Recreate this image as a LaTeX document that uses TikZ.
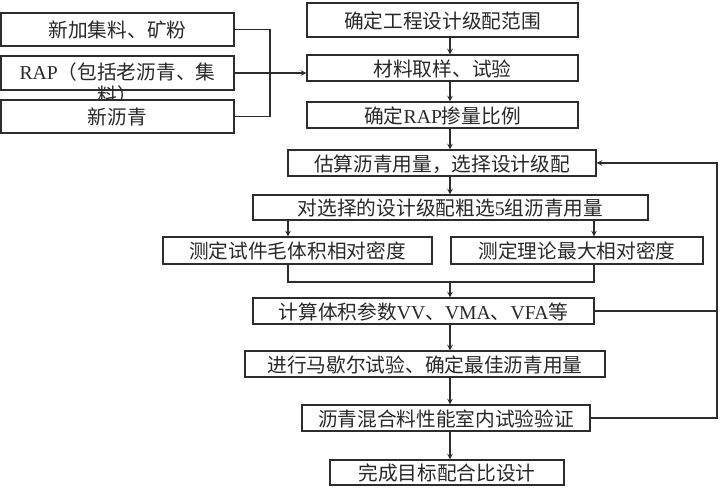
\documentclass[tikz,border=0pt]{standalone}
\usepackage{fontspec}
\usepackage{tikz}
\usepackage{xcolor}
\usetikzlibrary{shapes,arrows,positioning,calc}
\setmainfont{Liberation Serif}
\newfontfamily\cnfont{Noto Sans CJK SC}
\newfontfamily\latfont{Liberation Serif}
\definecolor{linegray}{RGB}{45,45,45}
\definecolor{textgray}{RGB}{40,40,40}
\newcommand{\boxfont}{\cnfont\fontsize{14}{19}\selectfont}
\tikzset{sz/.style 2 args={minimum width=#1*0.025cm, minimum height=#2*0.025cm}}

\begin{document}
\begin{tikzpicture}[
 x=0.025cm, y=-0.025cm,
 box/.style={rectangle, draw=linegray, line width=0.8pt, fill=white, inner sep=0pt, font=\boxfont, text=textgray, text height=1.15em, text depth=0pt},
 txt/.style={inner sep=0pt, font=\boxfont, text=textgray, align=center},
 arrow/.style={->, >=stealth, line width=0.8pt, draw=linegray},
 line/.style={line width=0.8pt, draw=linegray}
]
\useasboundingbox (0,0) rectangle (721,500);

% Raw materials (left side)
\node[box, sz={233}{33}] (agg) at (117.5,29.5) {新加集料、矿粉};
\node[box, sz={233}{34}] (rap) at (117.5,73) {};
\node[txt, anchor=north] (raptxt) at ($(rap.north)+(0,7)$) {{\latfont RAP}（包括老沥青、集\\[-3pt]料）};
\node[box, sz={233}{33}] (binder) at (117.5,116.5) {新沥青};

% Main column
\node[box, sz={271}{34}] (range) at (442.5,20) {确定工程设计级配范围};
\node[box, sz={271}{26}] (sample) at (442.5,68) {材料取样、试验};
\node[box, sz={271}{26}] (ratio) at (442.5,115) {确定{\latfont RAP}掺量比例};
\node[box, sz={308}{26}] (estimate) at (442,163) {估算沥青用量，选择设计级配};
\node[box, sz={395}{25}] (select) at (450.5,207.5) {对选择的设计级配粗选{\latfont 5}组沥青用量};
\node[box, sz={269}{27}] (bulk) at (297.5,250.5) {测定试件毛体积相对密度};
\node[box, sz={252}{27}] (theory) at (577,250.5) {测定理论最大相对密度};
\node[box, sz={341}{26}] (volume) at (423.5,311) {计算体积参数{\latfont VV}、{\latfont VMA}、{\latfont VFA}等};
\node[box, sz={360}{26}] (marshall) at (425,364) {进行马歇尔试验、确定最佳沥青用量};
\node[box, sz={288}{26}] (verify) at (446,418) {沥青混合料性能室内试验验证};
\node[box, sz={234}{25}] (finish) at (447,472.5) {完成目标配合比设计};

% Helper coordinates
\coordinate (col) at (450,0);
\coordinate (join) at (270,0);
\coordinate (ml) at (288,282);
\coordinate (mr) at (594,282);
\coordinate (loop) at (717,0);

% Materials into sampling
\draw[line] (agg.east) -- (agg.east -| join) -- (binder.east -| join) -- (binder.east);
\draw[arrow] (rap.east) -- (rap.east -| sample.west);

% Arrows - main column
\draw[arrow] (range.south -| col) -- (sample.north -| col);
\draw[arrow] (sample.south -| col) -- (ratio.north -| col);
\draw[arrow] (ratio.south -| col) -- (estimate.north -| col);
\draw[arrow] (estimate.south -| col) -- (select.north -| col);
\draw[arrow] (select.south -| ml) -- (bulk.north -| ml);
\draw[arrow] (select.south -| mr) -- (theory.north -| mr);
\draw[line] (bulk.south -| ml) -- (ml) -- (mr) -- (theory.south -| mr);
\draw[arrow] (ml -| col) -- (volume.north -| col);
\draw[arrow] (volume.south -| col) -- (marshall.north -| col);
\draw[arrow] (marshall.south -| col) -- (verify.north -| col);
\draw[arrow] (verify.south -| col) -- (finish.north -| col);

% Feedback loop
\draw[arrow] (verify.east) -- (verify.east -| loop) -- (estimate.east -| loop) -- (estimate.east);
\draw[line] (volume.east) -- (volume.east -| loop);

\end{tikzpicture}
\end{document}
